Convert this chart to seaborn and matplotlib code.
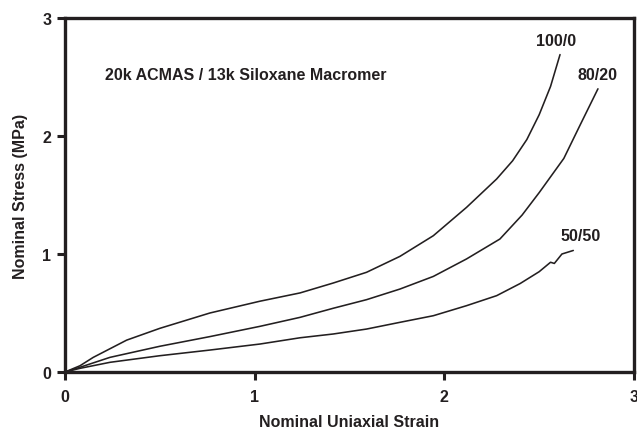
import matplotlib
matplotlib.use("Agg")
import matplotlib.pyplot as plt
import seaborn as sns
import pandas as pd

# Stress-strain data for three ACMAS / siloxane macromer blend ratios
strain_100_0 = [0, 0.079, 0.149, 0.325, 0.50, 0.764, 1.028, 1.239, 1.414, 1.590,
                1.766, 1.942, 2.117, 2.276, 2.36, 2.435, 2.50, 2.56, 2.61]
stress_100_0 = [0, 0.053, 0.124, 0.27, 0.37, 0.50, 0.60, 0.67, 0.754, 0.845,
                0.98, 1.155, 1.395, 1.636, 1.79, 1.97, 2.18, 2.42, 2.69]

strain_80_20 = [0, 0.079, 0.237, 0.50, 0.764, 1.028, 1.239, 1.414, 1.590, 1.766,
                1.942, 2.117, 2.293, 2.41, 2.50, 2.63, 2.715, 2.81]
stress_80_20 = [0, 0.04, 0.124, 0.218, 0.30, 0.387, 0.463, 0.54, 0.613, 0.703,
                0.81, 0.958, 1.127, 1.33, 1.52, 1.81, 2.09, 2.40]

strain_50_50 = [0, 0.079, 0.237, 0.50, 0.764, 1.028, 1.239, 1.414, 1.590, 1.766,
                1.942, 2.117, 2.276, 2.40, 2.50, 2.56, 2.58, 2.62, 2.68]
stress_50_50 = [0, 0.031, 0.082, 0.138, 0.186, 0.237, 0.29, 0.322, 0.364, 0.421,
                0.477, 0.562, 0.647, 0.75, 0.85, 0.93, 0.92, 1.00, 1.03]

labels = ["100/0", "80/20", "50/50"]
label_pos = [(2.59, 2.81), (2.81, 2.52), (2.72, 1.16)]
ticks = [0, 1, 2, 3]

frames = []
for name, x, y in zip(labels,
                      [strain_100_0, strain_80_20, strain_50_50],
                      [stress_100_0, stress_80_20, stress_50_50]):
    frames.append(pd.DataFrame({"strain": x, "stress": y, "blend": name}))
df = pd.concat(frames, ignore_index=True)

sns.set_theme(style="white")
plt.rcParams["font.family"] = ["Liberation Sans", "DejaVu Sans"]

ink = "#231f20"
fs = 11.5
fig = plt.figure(figsize=(6.37, 4.31), dpi=100)
ax = fig.add_axes([65 / 637, 58 / 431, 569 / 637, 354 / 431])

sns.lineplot(data=df, x="strain", y="stress", hue="blend", sort=False,
             palette={n: ink for n in labels}, linewidth=1.15, legend=False, ax=ax)

ax.set_xlim(0, 3)
ax.set_ylim(0, 3)
ax.set_xticks(ticks)
ax.set_yticks(ticks)
ax.set_xticklabels([str(t) for t in ticks], fontweight="bold", fontsize=fs, color=ink)
ax.set_yticklabels([str(t) for t in ticks], fontweight="bold", fontsize=fs, color=ink)
ax.tick_params(axis="both", direction="out", length=6, width=2.2, color=ink,
               left=True, bottom=True)
ax.tick_params(axis="x", pad=6)
ax.tick_params(axis="y", pad=4)

for s in ax.spines.values():
    s.set_visible(True)
    s.set_color(ink)
    s.set_linewidth(2.4)

ax.set_xlabel("Nominal Uniaxial Strain", fontweight="bold", fontsize=fs, color=ink)
ax.set_ylabel("Nominal Stress (MPa)", fontweight="bold", fontsize=fs, color=ink)
ax.xaxis.set_label_coords(0.5, -0.118)
ax.yaxis.set_label_coords(-0.065, 0.5)

ax.text(0.21, 2.525, "20k ACMAS / 13k Siloxane Macromer", fontweight="bold",
        fontsize=fs, color=ink, ha="left", va="center")
for name, (lx, ly) in zip(labels, label_pos):
    ax.text(lx, ly, name, fontweight="bold", fontsize=fs, color=ink,
            ha="center", va="center")

fig.savefig("out.png", dpi=100)
